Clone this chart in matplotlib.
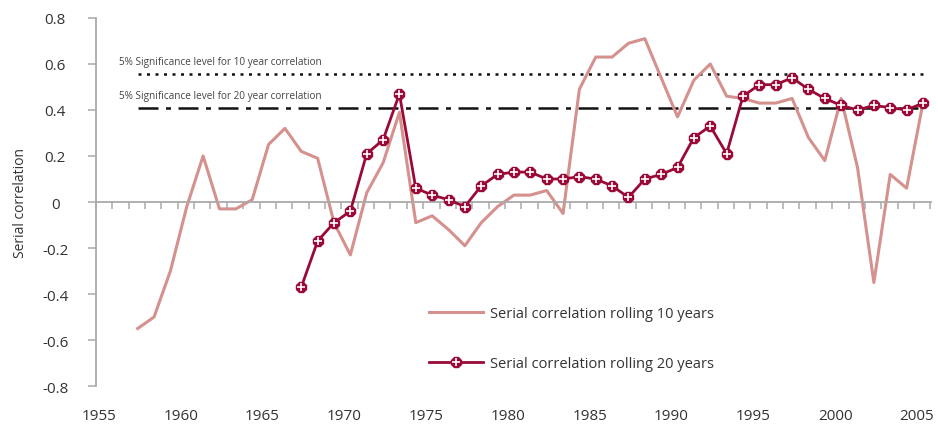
"""Serial correlation of returns, rolling 10 and 20 year windows."""

import matplotlib

matplotlib.use("Agg")

import matplotlib.pyplot as plt
from matplotlib.legend_handler import HandlerTuple
from matplotlib.lines import Line2D

plt.rcParams["font.family"] = ["Open Sans", "DejaVu Sans"]

# rolling 10 years: 1957-2005
years_10 = list(range(1957, 2006))
corr_10 = [
    -0.55, -0.50, -0.30, -0.02, 0.20, -0.03, -0.03, 0.01, 0.25, 0.32,
    0.22, 0.19, -0.09, -0.23, 0.04, 0.17, 0.39, -0.09, -0.06, -0.12,
    -0.19, -0.09, -0.02, 0.03, 0.03, 0.05, -0.05, 0.49, 0.63, 0.63,
    0.69, 0.71, 0.54, 0.37, 0.53, 0.60, 0.46, 0.45, 0.43, 0.43,
    0.45, 0.28, 0.18, 0.45, 0.15, -0.35, 0.12, 0.06, 0.43,
]

# rolling 20 years: 1967-2005
years_20 = list(range(1967, 2006))
corr_20 = [
    -0.37, -0.17, -0.09, -0.04, 0.21, 0.27, 0.47, 0.06, 0.03, 0.01,
    -0.02, 0.07, 0.12, 0.13, 0.13, 0.10, 0.10, 0.11, 0.10, 0.07,
    0.02, 0.10, 0.12, 0.15, 0.28, 0.33, 0.21, 0.46, 0.51, 0.51,
    0.54, 0.49, 0.45, 0.42, 0.40, 0.42, 0.41, 0.40, 0.43,
]

sig_10 = 0.557
sig_20 = 0.41
sig_label_10 = "5% Significance level for 10 year correlation"
sig_label_20 = "5% Significance level for 20 year correlation"

year_labels = list(range(1955, 2010, 5))

PINK = "#d4918d"
WINE = "#9b0a36"
GREY = "#aaaaaa"
TEXT = "#333333"

fig = plt.figure(figsize=(9.38, 4.31), dpi=100)
ax = fig.add_axes([0.1023, 0.102, 0.8902, 0.854])

ax.plot(years_10, corr_10, color=PINK, lw=2.2, zorder=2)
ax.plot(years_20, corr_20, color=WINE, lw=2.0, marker="8", ms=7.5,
        mfc=WINE, mec=WINE, zorder=3)
ax.plot(years_20, corr_20, ls="none", marker="+", ms=5.5, mew=1.2,
        color="white", zorder=4)

x0, x1 = years_10[0], years_10[-1]
ax.plot([x0, x1], [sig_10, sig_10], color="#111111", lw=1.8,
        ls=(0, (1.2, 2.2)), zorder=1)
ax.plot([x0, x1], [sig_20, sig_20], color="#111111", lw=1.8,
        ls=(0, (8, 3, 2, 3)), zorder=1)
ax.text(x0 - 1.15, sig_10 + 0.052, sig_label_10, fontsize=7.2,
        color="#444444", va="center")
ax.text(x0 - 1.15, sig_20 + 0.052, sig_label_20, fontsize=7.2,
        color="#444444", va="center")

ax.set_xlim(1954.45, 2005.49)
ax.set_ylim(-0.8, 0.8)

# zero line with one tick per year
for s in ("top", "right"):
    ax.spines[s].set_visible(False)
ax.spines["bottom"].set_position(("data", 0))
ax.spines["bottom"].set_color(GREY)
ax.spines["bottom"].set_linewidth(1.3)
ax.spines["left"].set_color(GREY)
ax.spines["left"].set_linewidth(1.3)
ax.set_xticks([y - 0.55 for y in range(1955, 2007)])
ax.tick_params(axis="x", direction="out", length=5, width=1.1,
               color=GREY, labelbottom=False)

ax.set_yticks([-0.8, -0.6, -0.4, -0.2, 0, 0.2, 0.4, 0.6, 0.8])
ax.set_yticklabels(["-0.8", "-0.6", "-0.4", "-0.2", "0", "0.2", "0.4", "0.6", "0.8"])
ax.tick_params(axis="y", direction="out", length=6, width=1.1, color=GREY,
               labelsize=11, labelcolor=TEXT, pad=23.4)
for lab in ax.get_yticklabels():
    lab.set_horizontalalignment("center")
ax.set_ylabel("Serial correlation", fontsize=10, color=TEXT, labelpad=10)

# year labels along the bottom
sec = ax.secondary_xaxis(0)
sec.set_xticks([y - 0.37 for y in year_labels])
sec.set_xticklabels([str(y) for y in year_labels])
sec.spines["bottom"].set_visible(False)
sec.tick_params(length=0, labelsize=11, labelcolor=TEXT, pad=16)

h10 = Line2D([], [], color=PINK, lw=2.2)
h20a = Line2D([], [], color=WINE, lw=2.0, marker="8", ms=7.5, mfc=WINE, mec=WINE)
h20b = Line2D([], [], ls="none", marker="+", ms=5.5, mew=1.2, color="white")
fig.legend(
    [h10, (h20a, h20b)],
    ["Serial correlation rolling 10 years", "Serial correlation rolling 20 years"],
    handler_map={tuple: HandlerTuple(ndivide=1, pad=0)},
    loc="center left", bbox_to_anchor=(0.4497, 0.2115), frameon=False,
    fontsize=10.5, handlelength=3.7, handletextpad=0.45, labelspacing=2.4,
    borderpad=0, labelcolor=TEXT,
)

fig.savefig("out.png", dpi=100)
